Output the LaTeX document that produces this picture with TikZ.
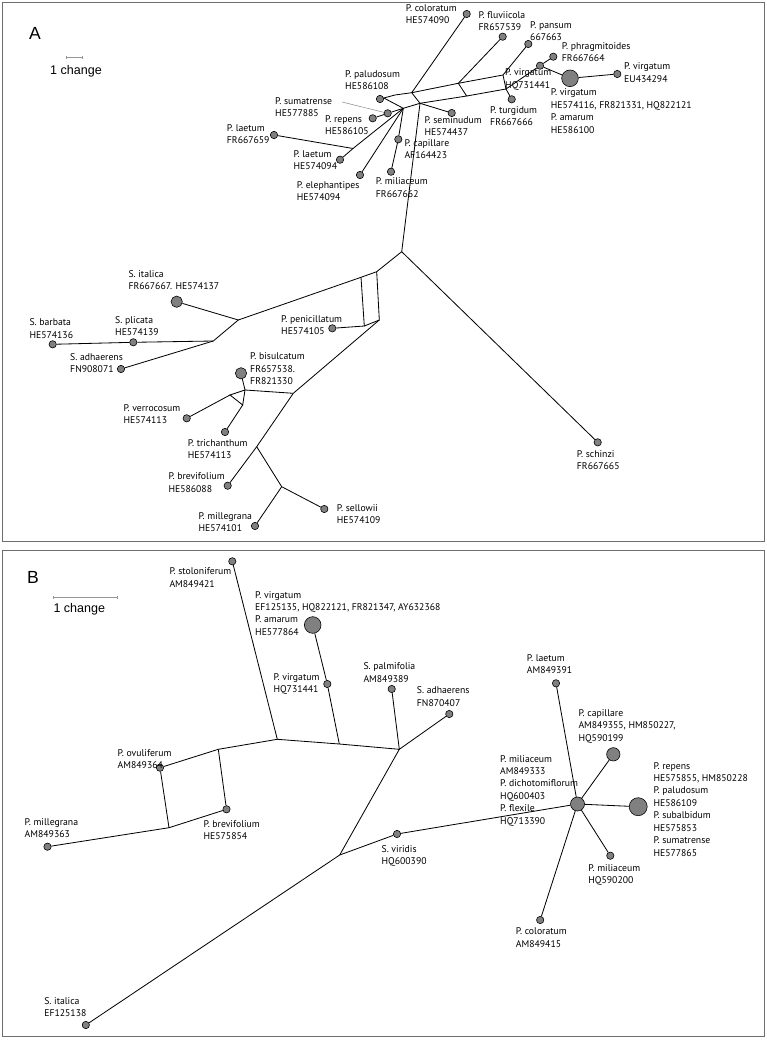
\documentclass[tikz,border=0pt]{standalone}
\usepackage{fontspec}
\setmainfont{PT Sans}
\newfontfamily\arialfont{Liberation Sans}
\usetikzlibrary{arrows.meta}
\definecolor{hapgray}{RGB}{128,128,128}
\definecolor{framegray}{RGB}{110,110,110}
\definecolor{bargray}{RGB}{150,150,150}
\newcommand{\labfont}{\fontsize{8.3}{10.6}\selectfont}

\begin{document}
\begin{tikzpicture}[x=0.03cm, y=-0.03cm,
    hap/.style={circle, draw=black, fill=hapgray, line width=0.5pt, inner sep=0pt, minimum size=0.22cm},
    midhap/.style={hap, minimum size=0.34cm},
    bighap/.style={hap, minimum size=0.5cm},
    lab/.style={font=\labfont, align=left, inner sep=0pt, anchor=north west},
    edge/.style={line width=0.7pt},
    leader/.style={draw=gray, line width=0.4pt},
    panel/.style={draw=framegray, line width=0.8pt},
    scalebar/.style={draw=bargray, line width=0.6pt, {Bar[width=2.5pt]}-{Bar[width=2.5pt]}},
    letter/.style={font=\arialfont\fontsize{15}{18}\selectfont, inner sep=0pt},
    barlabel/.style={font=\arialfont\fontsize{10.7}{12}\selectfont, inner sep=0pt, anchor=west}]

  \useasboundingbox (0,0) rectangle (767,1041);
  \draw[panel] (2,2) rectangle (764,541);
  \draw[panel] (2,550) rectangle (764,1036);

  % panel A
  \node[letter] (letA) at (35,33) {A};
  \coordinate (sbA1) at (65.7,57.3);
  \coordinate (sbA2) at (82.3,57.3);
  \draw[scalebar] (sbA1) -- (sbA2);
  \node[barlabel] (sbAtxt) at (50,71) {1 change};

  \node[hap] (coloratumA) at (466.7,14) {};
  \node[hap] (fluviicolaA) at (502.7,36.7) {};
  \node[hap] (pansumA) at (528.3,44) {};
  \node[hap] (phragmA) at (553.3,56.7) {};
  \node[hap] (hqA) at (540,65.7) {};
  \node[bighap] (virgA) at (570,78.3) {};
  \node[hap] (euA) at (617.3,74) {};
  \node[hap] (turgidumA) at (511.7,99.3) {};
  \node[hap] (paludosumA) at (380,99) {};
  \node[hap] (sumatrenseA) at (387.7,113.3) {};
  \node[hap] (repensA) at (372.7,118.3) {};
  \node[hap] (seminudumA) at (451.7,113) {};
  \node[hap] (capillareA) at (398.3,139.3) {};
  \node[hap] (miliaceumA) at (391,171.7) {};
  \node[hap] (laetumA) at (274,135) {};
  \node[hap] (laetumAA) at (340,159.7) {};
  \node[hap] (elephantipesA) at (360,175) {};
  \node[hap] (schinziA) at (597.7,442.3) {};
  \node[midhap] (italicaA) at (176.7,301.7) {};
  \node[hap] (plicataA) at (133.3,342.3) {};
  \node[hap] (barbataA) at (52.7,344.3) {};
  \node[hap] (adhaerensA) at (121,369) {};
  \node[hap] (penicillatumA) at (332.3,328.3) {};
  \node[midhap] (bisulcatumA) at (241,373.3) {};
  \node[hap] (verrocosumA) at (186.7,418.3) {};
  \node[hap] (trichanthumA) at (225,432) {};
  \node[hap] (brevifoliumA) at (227.7,485.7) {};
  \node[hap] (sellowiiA) at (324.3,509) {};
  \node[hap] (millegranaA) at (255,526) {};

  \coordinate (a1) at (395,95);
  \coordinate (a2) at (411.7,92.7);
  \coordinate (a3) at (420,103.3);
  \coordinate (a4) at (403.3,108.3);
  \coordinate (b2) at (458.3,83.3);
  \coordinate (b3) at (466.7,96);
  \coordinate (d1) at (503,75);
  \coordinate (e1) at (506,89);
  \coordinate (j1) at (353,148.5);
  \coordinate (j0) at (401.7,251.7);
  \coordinate (k1) at (376.7,271.7);
  \coordinate (k2) at (361,277.3);
  \coordinate (k3) at (364.3,326);
  \coordinate (k4) at (379.3,320);
  \coordinate (l1) at (238.3,320);
  \coordinate (l2) at (213.3,341);
  \coordinate (m1) at (293.3,393.3);
  \coordinate (m2) at (245,390);
  \coordinate (n1) at (230,395);
  \coordinate (n2) at (242.7,405);
  \coordinate (p1) at (256.7,446.7);
  \coordinate (p2) at (281.7,486.7);

  \draw[edge] (paludosumA) -- (a1) -- (a2) -- (a3) -- (a4) -- cycle;
  \draw[edge] (a2) -- (b2) -- (b3) -- (a3);
  \draw[edge] (coloratumA) -- (a2);
  \draw[edge] (b2) -- (fluviicolaA);
  \draw[edge] (b2) -- (d1) -- (pansumA);
  \draw[edge] (b3) -- (e1) -- (d1);
  \draw[edge] (e1) -- (turgidumA);
  \draw[edge] (e1) -- (hqA) -- (phragmA);
  \draw[edge] (hqA) -- (virgA) -- (euA);
  \draw[edge] (a3) -- (seminudumA);
  \draw[edge] (a4) -- (sumatrenseA) -- (repensA);
  \draw[edge] (a4) -- (j1) -- (laetumAA);
  \draw[edge] (j1) -- (laetumA);
  \draw[edge] (a4) -- (elephantipesA);
  \draw[edge] (a4) -- (capillareA) -- (miliaceumA);
  \draw[edge] (a3) -- (j0) -- (schinziA);
  \draw[edge] (j0) -- (k1) -- (k2) -- (k3) -- (k4) -- (k1);
  \draw[edge] (k3) -- (penicillatumA);
  \draw[edge] (k2) -- (l1) -- (italicaA);
  \draw[edge] (l1) -- (l2) -- (plicataA) -- (barbataA);
  \draw[edge] (l2) -- (adhaerensA);
  \draw[edge] (k4) -- (m1) -- (m2) -- (bisulcatumA);
  \draw[edge] (m2) -- (n1) -- (n2) -- (m2);
  \draw[edge] (n1) -- (verrocosumA);
  \draw[edge] (n2) -- (trichanthumA);
  \draw[edge] (m1) -- (p1) -- (brevifoliumA);
  \draw[edge] (p1) -- (p2) -- (sellowiiA);
  \draw[edge] (p2) -- (millegranaA);

  \node[lab] (lcoloratumA) at (405.7,4) {P. coloratum\\HE574090};
  \node[lab] (lfluviicolaA) at (478.3,11) {P. fluviicola\\FR657539};
  \node[lab] (lpansumA) at (530,21) {P. pansum\\667663};
  \node[lab] (lphragmA) at (561.7,42) {P. phragmitoides\\FR667664};
  \node[lab] (lhqA) at (505,68.7) {P. virgatum\\HQ731441};
  \node[lab] (leuA) at (624,62.7) {P. virgatum\\EU434294};
  \node[lab] (lvirgA) at (550.7,88.7) {P. virgatum\\HE574116, FR821331, HQ822121\\P. amarum\\HE586100};
  \node[lab] (lturgidumA) at (490,106) {P. turgidum\\FR667666};
  \node[lab] (lpaludosumA) at (345,70) {P. paludosum\\HE586108};
  \node[lab] (lsumatrenseA) at (275,97) {P. sumatrense\\HE577885};
  \node[lab] (lrepensA) at (325,115.3) {P. repens\\HE586105};
  \node[lab] (lseminudumA) at (424.3,116) {P. seminudum\\HE574437};
  \node[lab] (lcapillareA) at (404.3,139.3) {P. capillare\\AF164423};
  \node[lab] (lmiliaceumA) at (375.7,177.7) {P. miliaceum\\FR667662};
  \node[lab] (llaetumA) at (226.7,124.3) {P. laetum\\FR667659};
  \node[lab] (llaetumAA) at (293.3,150) {P. laetum\\HE574094};
  \node[lab] (lelephantipesA) at (296.7,181) {P. elephantipes\\HE574094};
  \node[lab] (lschinziA) at (576.7,450.3) {P. schinzi\\FR667665};
  \node[lab] (litalicaA) at (128.3,270.3) {S. italica\\FR667667. HE574137};
  \node[lab] (lplicataA) at (115,316) {S. plicata\\HE574139};
  \node[lab] (lbarbataA) at (29.3,318.7) {S. barbata\\HE574136};
  \node[lab] (ladhaerensA) at (70,353.3) {S. adhaerens\\FN908071};
  \node[lab] (lpenicillatumA) at (281,315) {P. penicillatum\\HE574105};
  \node[lab] (lbisulcatumA) at (250,352.7) {P. bisulcatum\\FR657538.\\FR821330};
  \node[lab] (lverrocosumA) at (123.3,404.3) {P. verrocosum\\HE574113};
  \node[lab] (ltrichanthumA) at (187.7,439.3) {P. trichanthum\\HE574113};
  \node[lab] (lbrevifoliumA) at (168.3,472.7) {P. brevifolium\\HE586088};
  \node[lab] (lsellowiiA) at (336.7,504.3) {P. sellowii\\HE574109};
  \node[lab] (lmillegranaA) at (198.3,512) {P. millegrana\\HE574101};

  \coordinate (sumtip) at (342,102);
  \draw[leader] (sumtip) -- (sumatrenseA);

  % panel B
  \node[letter] (letB) at (33,577) {B};
  \coordinate (sbB1) at (53.3,597.7);
  \coordinate (sbB2) at (117.3,597.7);
  \draw[scalebar] (sbB1) -- (sbB2);
  \node[barlabel] (sbBtxt) at (53.3,609) {1 change};

  \node[hap] (stolonB) at (232.3,561.3) {};
  \node[bighap] (virgB) at (312.7,625) {};
  \node[hap] (hqB) at (327.3,684) {};
  \node[hap] (palmB) at (391.7,689) {};
  \node[hap] (adhaerensB) at (449.3,714) {};
  \node[hap] (ovuliferumB) at (160,767.7) {};
  \node[hap] (brevifoliumB) at (226.5,809.3) {};
  \node[hap] (millegranaB) at (47.5,846.7) {};
  \node[hap] (viridisB) at (397,834) {};
  \node[hap] (italicaB) at (85.8,1025) {};
  \node[hap, minimum size=0.42cm] (hubB) at (577.5,804) {};
  \node[hap] (laetumB) at (556,683.3) {};
  \node[hap, minimum size=0.4cm] (capillareB) at (613.3,754.3) {};
  \node[hap, minimum size=0.54cm] (repensB) at (638.2,806.7) {};
  \node[hap] (miliaceumB) at (610.3,855.7) {};
  \node[hap] (coloratumB) at (540.2,920) {};

  \coordinate (q1) at (277.3,739.3);
  \coordinate (q2) at (218.3,749.3);
  \coordinate (q3) at (339.3,744);
  \coordinate (q4) at (399.3,749.3);
  \coordinate (q5) at (339.7,855);
  \coordinate (r1) at (169,827.7);

  \draw[edge] (stolonB) -- (q1) -- (q2) -- (ovuliferumB) -- (r1) -- (millegranaB);
  \draw[edge] (r1) -- (brevifoliumB) -- (q2);
  \draw[edge] (q1) -- (q3) -- (q4) -- (q5) -- (italicaB);
  \draw[edge] (virgB) -- (hqB) -- (q3);
  \draw[edge] (palmB) -- (q4) -- (adhaerensB);
  \draw[edge] (q5) -- (viridisB) -- (hubB);
  \draw[edge] (hubB) -- (laetumB);
  \draw[edge] (hubB) -- (capillareB);
  \draw[edge] (hubB) -- (repensB);
  \draw[edge] (hubB) -- (miliaceumB);
  \draw[edge] (hubB) -- (coloratumB);

  \node[lab] (lstolonB) at (169.3,567.7) {P. stoloniferum\\AM849421};
  \node[lab] (lvirgB) at (255,591) {P. virgatum\\EF125135, HQ822121, FR821347, AY632368\\P. amarum\\HE577864};
  \node[lab] (lhqB) at (273.3,673.3) {P. virgatum\\HQ731441};
  \node[lab] (lpalmB) at (363.3,662.7) {S. palmifolia\\AM849389};
  \node[lab] (ladhaerensB) at (416.7,686.7) {S. adhaerens\\FN870407};
  \node[lab] (lovuliferumB) at (117.5,749.3) {P. ovuliferum\\AM849364};
  \node[lab] (lbrevifoliumB) at (203.4,820.3) {P. brevifolium\\HE575854};
  \node[lab] (lmillegranaB) at (24.5,818.3) {P. millegrana\\AM849363};
  \node[lab] (lviridisB) at (381.4,845) {S. viridis\\HQ600390};
  \node[lab] (litalicaB) at (44.1,997) {S. italica\\EF125138};
  \node[lab] (llaetumB) at (526.7,654.3) {P. laetum\\AM849391};
  \node[lab] (lcapillareB) at (578.3,709.3) {P. capillare\\AM849355, HM850227,\\HQ590199};
  \node[lab] (lrepensB) at (653.3,762) {P. repens\\HE575855, HM850228\\P. paludosum\\HE586109\\P. subalbidum\\HE575853\\P. sumatrense\\HE577865};
  \node[lab] (lhubB) at (500,755) {P. miliaceum\\AM849333\\P. dichotomiflorum\\HQ600403\\P. flexile\\HQ713390};
  \node[lab] (lmiliaceumB) at (588.2,864.3) {P. miliaceum\\HQ590200};
  \node[lab] (lcoloratumB) at (515.7,927.7) {P. coloratum\\AM849415};
\end{tikzpicture}
\end{document}
